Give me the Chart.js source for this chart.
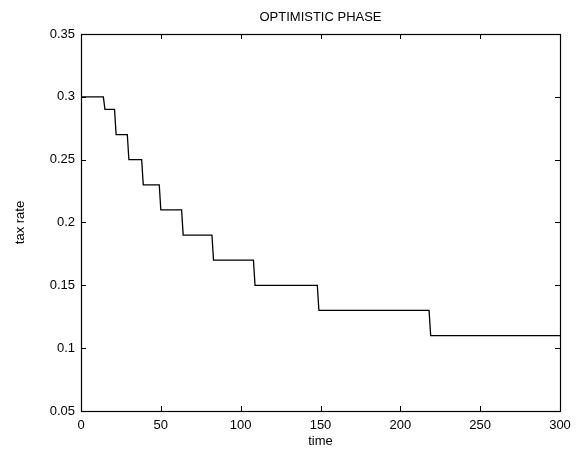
<!DOCTYPE html>
<html>
<head>
<meta charset="utf-8">
<script src="https://cdn.jsdelivr.net/npm/chart.js@4/dist/chart.umd.min.js"></script>
<style>
  html, body { margin: 0; padding: 0; background: #fff; }
  #wrap { width: 580px; height: 456px; }
</style>
</head>
<body>
<div id="wrap"><canvas id="c" width="580" height="456"></canvas></div>
<script>
// Tax rate levels and the time step at which each new level begins
const rateLevels  = [0.30, 0.29, 0.27, 0.25, 0.23, 0.21, 0.19, 0.17, 0.15, 0.13, 0.11];
const changeTimes = [15, 22, 30, 39, 50, 64, 83, 109, 149, 219];
const timeRange   = [0, 300];
const xTickValues = [0, 50, 100, 150, 200, 250, 300];
const yTickValues = [0.05, 0.1, 0.15, 0.2, 0.25, 0.3, 0.35];
const chartTitle  = 'OPTIMISTIC PHASE';

// Sampled once per time unit: each level holds until the sample before the next change
const points = [];
rateLevels.forEach((v, i) => {
  const start = i === 0 ? timeRange[0] : changeTimes[i - 1];
  const end = i < changeTimes.length ? changeTimes[i] - 1 : timeRange[1];
  points.push({ x: start, y: v });
  points.push({ x: end, y: v });
});

const FONT = '"Liberation Sans", Arial, Helvetica, sans-serif';
const FONT_SIZE = 13;

// Box frame with inward ticks on all four sides, and the title centred over the plot
const framePlugin = {
  id: 'frame',
  afterDraw(chart) {
    const { ctx, chartArea: a, scales } = chart;
    const len = 5;
    ctx.save();
    ctx.strokeStyle = '#000';
    ctx.lineWidth = 1;
    ctx.beginPath();
    scales.x.ticks.forEach((t, i) => {
      const px = Math.round(scales.x.getPixelForTick(i)) + 0.5;
      ctx.moveTo(px, a.bottom); ctx.lineTo(px, a.bottom - len);
      ctx.moveTo(px, a.top); ctx.lineTo(px, a.top + len);
    });
    scales.y.ticks.forEach((t, i) => {
      const py = Math.round(scales.y.getPixelForTick(i)) + 0.5;
      ctx.moveTo(a.left, py); ctx.lineTo(a.left + len, py);
      ctx.moveTo(a.right, py); ctx.lineTo(a.right - len, py);
    });
    ctx.stroke();
    ctx.lineWidth = 1.2;
    ctx.strokeRect(Math.round(a.left) + 0.5, Math.round(a.top) + 0.5,
                   Math.round(a.right - a.left), Math.round(a.bottom - a.top));

    ctx.fillStyle = '#000';
    ctx.font = FONT_SIZE + 'px ' + FONT;
    ctx.textAlign = 'center';
    ctx.textBaseline = 'middle';
    ctx.fillText(chartTitle, (a.left + a.right) / 2, a.top - 17);
    ctx.restore();
  }
};

new Chart(document.getElementById('c'), {
  type: 'line',
  data: {
    datasets: [{
      data: points,
      borderColor: '#000',
      borderWidth: 1.3,
      pointRadius: 0,
      tension: 0,
      fill: false
    }]
  },
  options: {
    responsive: false,
    animation: false,
    devicePixelRatio: 1,
    layout: { padding: { left: 0, right: 20, top: 34, bottom: 0 } },
    plugins: {
      legend: { display: false },
      tooltip: { enabled: false },
      title: { display: false }
    },
    scales: {
      x: {
        type: 'linear',
        min: timeRange[0],
        max: timeRange[1],
        afterBuildTicks(s) { s.ticks = xTickValues.map(v => ({ value: v })); },
        afterFit(s) { s.height = 45; },
        grid: { display: false, drawTicks: false },
        border: { display: false },
        ticks: {
          color: '#000',
          padding: 6.5,
          autoSkip: false,
          maxRotation: 0,
          font: { family: FONT, size: FONT_SIZE },
          callback: v => String(v)
        },
        title: {
          display: true,
          text: 'time',
          color: '#000',
          font: { family: FONT, size: FONT_SIZE },
          padding: { top: 0, bottom: 7.2 }
        }
      },
      y: {
        type: 'linear',
        min: yTickValues[0],
        max: yTickValues[yTickValues.length - 1],
        afterBuildTicks(s) { s.ticks = yTickValues.map(v => ({ value: v })); },
        afterFit(s) { s.width = 81; },
        grid: { display: false, drawTicks: false },
        border: { display: false },
        ticks: {
          color: '#000',
          padding: 6,
          autoSkip: false,
          font: { family: FONT, size: FONT_SIZE },
          callback: v => String(Number(v.toFixed(2)))
        },
        title: {
          display: true,
          text: 'tax rate',
          color: '#000',
          font: { family: FONT, size: FONT_SIZE },
          padding: { top: 12.2, bottom: 0 }
        }
      }
    }
  },
  plugins: [framePlugin]
});
</script>
</body>
</html>
